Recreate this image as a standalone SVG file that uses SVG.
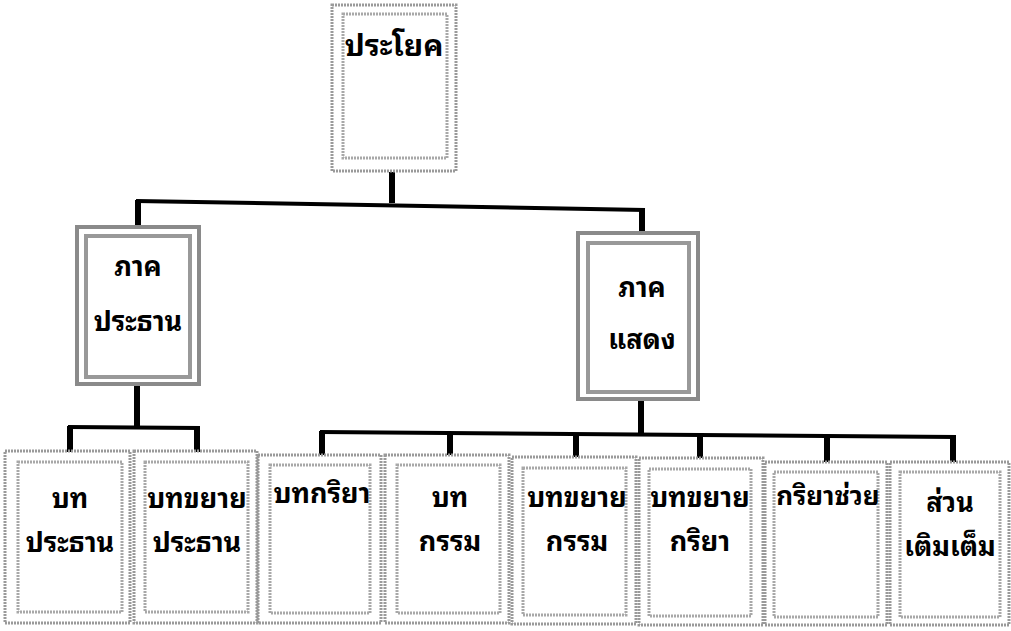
<svg xmlns="http://www.w3.org/2000/svg" width="1011" height="631" viewBox="0 0 1011 631">
<style>
.o{fill:none;stroke:#9a9a9a;stroke-width:3;stroke-dasharray:2 1}
.i{fill:none;stroke:#a8a8a8;stroke-width:3;stroke-dasharray:2 1}
.m{fill:none;stroke:#8a8a8a;stroke-width:4}
.mi{fill:none;stroke:#999;stroke-width:4}
.t{font-family:"Noto Sans Thai Looped","Noto Serif Thai","Noto Sans Thai","Noto Sans","DejaVu Sans",sans-serif;font-weight:bold;font-size:27px;fill:#000;text-anchor:middle}
.h{stroke:#000;stroke-width:4;fill:none}
.v{stroke:#000;stroke-width:6;fill:none}
</style>
<rect width="1011" height="631" fill="#fff"/>
<g id="connectors">
<line class="v" x1="392" y1="172" x2="392" y2="203"/>
<line class="h" x1="136" y1="201" x2="645" y2="210"/>
<line class="v" x1="138" y1="200" x2="138" y2="228"/>
<line class="v" x1="642" y1="209" x2="642" y2="234"/>
<line class="v" x1="137" y1="384" x2="137" y2="429"/>
<line class="h" x1="68" y1="427" x2="200" y2="428"/>
<line class="v" x1="70" y1="426" x2="70" y2="452"/>
<line class="v" x1="197" y1="426" x2="197" y2="452"/>
<line class="v" x1="641" y1="399" x2="641" y2="435"/>
<line class="h" x1="320" y1="432" x2="956" y2="437"/>
<line class="v" x1="322" y1="431" x2="322" y2="455"/>
<line class="v" x1="450" y1="432" x2="450" y2="455"/>
<line class="v" x1="576" y1="433" x2="576" y2="457"/>
<line class="v" x1="700" y1="434" x2="700" y2="458"/>
<line class="v" x1="827" y1="435" x2="827" y2="462"/>
<line class="v" x1="953" y1="436" x2="953" y2="462"/>
</g>
<g id="n-root">
<rect class="o" x="332" y="5" width="124" height="166"/>
<rect class="i" x="343" y="14" width="104" height="144"/>
<text class="t" x="394" y="56" style="font-size:30px">ประโยค</text>
</g>
<g id="n-subject">
<rect class="m" x="77" y="227" width="122" height="157"/>
<rect class="mi" x="86" y="236" width="104" height="141"/>
<text class="t" x="138" y="276">ภาค</text>
<text class="t" x="138" y="331">ประธาน</text>
</g>
<g id="n-predicate">
<rect class="m" x="578" y="233" width="120" height="166"/>
<rect class="mi" x="588" y="243" width="101" height="149"/>
<text class="t" x="642" y="297">ภาค</text>
<text class="t" x="642" y="349">แสดง</text>
</g>
<g id="n-b1">
<rect class="o" x="5" y="451" width="125" height="172"/>
<rect class="i" x="18" y="462" width="104" height="150"/>
<text class="t" x="70" y="508">บท</text>
<text class="t" x="70" y="552">ประธาน</text>
</g>
<g id="n-b2">
<rect class="o" x="134" y="451" width="123" height="172"/>
<rect class="i" x="145" y="462" width="103" height="150"/>
<text class="t" x="197" y="508">บทขยาย</text>
<text class="t" x="197" y="552">ประธาน</text>
</g>
<g id="n-b3">
<rect class="o" x="258" y="455" width="123" height="168"/>
<rect class="i" x="270" y="465" width="100" height="148"/>
<text class="t" x="322" y="503">บทกริยา</text>
</g>
<g id="n-b4">
<rect class="o" x="385" y="455" width="124" height="168"/>
<rect class="i" x="397" y="465" width="103" height="148"/>
<text class="t" x="450" y="507">บท</text>
<text class="t" x="450" y="551">กรรม</text>
</g>
<g id="n-b5">
<rect class="o" x="512" y="457" width="124" height="167"/>
<rect class="i" x="523" y="468" width="103" height="147"/>
<text class="t" x="577" y="507">บทขยาย</text>
<text class="t" x="577" y="551">กรรม</text>
</g>
<g id="n-b6">
<rect class="o" x="639" y="458" width="124" height="167"/>
<rect class="i" x="649" y="469" width="102" height="147"/>
<text class="t" x="700" y="507">บทขยาย</text>
<text class="t" x="700" y="551">กริยา</text>
</g>
<g id="n-b7">
<rect class="o" x="765" y="462" width="122" height="163"/>
<rect class="i" x="774" y="472" width="104" height="145"/>
<text class="t" x="828" y="505" style="font-size:26px">กริยาช่วย</text>
</g>
<g id="n-b8">
<rect class="o" x="890" y="462" width="119" height="163"/>
<rect class="i" x="900" y="472" width="100" height="145"/>
<text class="t" x="950" y="512">ส่วน</text>
<text class="t" x="950" y="556">เติมเต็ม</text>
</g>
</svg>
